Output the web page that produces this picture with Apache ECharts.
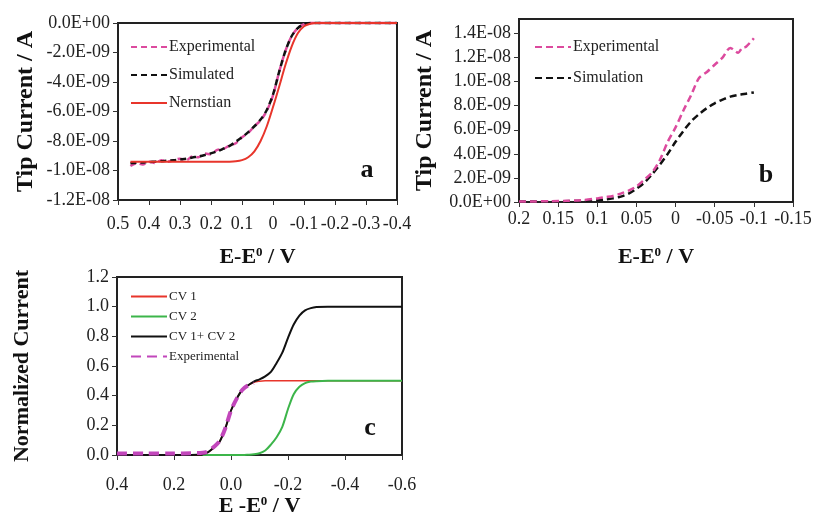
<!DOCTYPE html>
<html>
<head>
<meta charset="utf-8">
<script src="https://cdn.jsdelivr.net/npm/echarts@6/dist/echarts.min.js"></script>
<style>
html, body { margin: 0; padding: 0; background: #fff; }
#chart { width: 814px; height: 514px; }
</style>
</head>
<body>
<div id="chart"></div>
<script>
// panel a: tip current (nA) vs E-E0 (V)
var potA = [0.46, 0.44, 0.42, 0.40, 0.38, 0.36, 0.34, 0.32, 0.30, 0.28, 0.26, 0.24, 0.22, 0.20, 0.18, 0.16, 0.14, 0.12,
    0.10, 0.08, 0.06, 0.04, 0.02, 0.00, -0.02, -0.04, -0.06, -0.08, -0.10, -0.12, -0.14, -0.20, -0.30, -0.40];
var expA = [-9.7, -9.5, -9.6, -9.4, -9.5, -9.3, -9.4, -9.3, -9.2, -9.3, -9.05, -9.1, -8.85, -8.9, -8.6, -8.55, -8.3, -8.15,
    -7.75, -7.45, -7.0, -6.6, -5.95, -4.9, -3.3, -1.9, -0.9, -0.35, -0.08, 0, 0, 0, 0, 0];
var simA = [-9.5, -9.48, -9.45, -9.42, -9.4, -9.37, -9.33, -9.3, -9.25, -9.2, -9.12, -9.05, -8.95, -8.83, -8.7, -8.52, -8.33, -8.05,
    -7.75, -7.4, -7.0, -6.55, -5.9, -4.85, -3.3, -1.9, -0.9, -0.35, -0.08, -0.01, 0, 0, 0, 0];
var nernstA = [-9.4, -9.4, -9.4, -9.4, -9.4, -9.4, -9.4, -9.4, -9.4, -9.4, -9.4, -9.4, -9.4, -9.4, -9.4, -9.4, -9.4, -9.38,
    -9.3, -9.1, -8.7, -8.0, -7.0, -5.7, -4.3, -2.85, -1.6, -0.7, -0.22, -0.05, 0, 0, 0, 0];

// panel b: tip current (nA) vs E-E0 (V)
var potB = [0.20, 0.18, 0.16, 0.14, 0.12, 0.10, 0.09, 0.08, 0.07, 0.06, 0.05, 0.04, 0.03, 0.02, 0.01, 0.00,
    -0.01, -0.02, -0.03, -0.04, -0.05, -0.06, -0.07, -0.08, -0.085, -0.09, -0.10];
var expB = [0.05, 0.05, 0.07, 0.1, 0.15, 0.3, 0.4, 0.5, 0.7, 0.95, 1.3, 1.85, 2.45, 3.5, 5.0, 6.2,
    7.6, 8.9, 10.3, 10.8, 11.4, 12.0, 12.8, 12.4, 12.8, 12.9, 13.6];
var simB = [0.05, 0.05, 0.05, 0.07, 0.1, 0.15, 0.2, 0.3, 0.45, 0.7, 1.1, 1.6, 2.3, 3.1, 4.0, 5.0,
    5.9, 6.7, 7.3, 7.8, 8.2, 8.5, 8.75, 8.9, 8.95, 9.0, 9.1];

// panel c: normalized current vs E-E0 (V)
var potC = [0.40, 0.30, 0.20, 0.14, 0.10, 0.08, 0.06, 0.04, 0.02, 0.00, -0.02, -0.04, -0.06, -0.08, -0.10,
    -0.12, -0.14, -0.16, -0.18, -0.20, -0.22, -0.24, -0.26, -0.28, -0.30, -0.34, -0.40, -0.50, -0.60];
var cv1 = [0, 0, 0, 0, 0.005, 0.02, 0.05, 0.09, 0.18, 0.30, 0.38, 0.44, 0.47, 0.49, 0.497,
    0.5, 0.5, 0.5, 0.5, 0.5, 0.5, 0.5, 0.5, 0.5, 0.5, 0.5, 0.5, 0.5, 0.5];
var cv2 = [null, null, null, null, 0, 0, 0, 0, 0, 0, 0, 0, 0.002, 0.005, 0.012,
    0.03, 0.07, 0.12, 0.19, 0.31, 0.41, 0.46, 0.485, 0.495, 0.498, 0.5, 0.5, 0.5, 0.5];
var cvSum = [0, 0, 0, 0, 0.005, 0.02, 0.05, 0.09, 0.18, 0.30, 0.38, 0.44, 0.47, 0.495, 0.51,
    0.53, 0.56, 0.62, 0.69, 0.79, 0.88, 0.94, 0.975, 0.99, 0.997, 1.0, 1.0, 1.0, 1.0];
var expC = [0.01, 0.01, 0.01, 0.012, 0.015, 0.025, 0.055, 0.095, 0.18, 0.30, 0.38, 0.44, 0.47, 0.485, null,
    null, null, null, null, null, null, null, null, null, null, null, null, null, null];

var legendText = {
    expA: 'Experimental', simA: 'Simulated', nerA: 'Nernstian',
    expB: 'Experimental', simB: 'Simulation',
    cv1: 'CV 1', cv2: 'CV 2', sum: 'CV 1+ CV 2', expC: 'Experimental'
};

var F = '"Liberation Serif", "Times New Roman", serif';
var PINK = '#dc4a9e';
var RED = '#e8352b';
var GREEN = '#3cb54a';
var MAGENTA = '#c246bb';

function pairs(xs, ys) {
    var out = [];
    for (var i = 0; i < xs.length; i++) {
        if (ys[i] != null) out.push([xs[i], ys[i]]);
    }
    return out;
}

// Excel style "1.4E-08", input in nA
function sci(v) {
    var a = v * 1e-9;
    if (Math.abs(a) < 1e-15) return '0.0E+00';
    var e = Math.floor(Math.log10(Math.abs(a)) + 1e-9);
    var m = a / Math.pow(10, e);
    return m.toFixed(1) + 'E' + (e < 0 ? '-' : '+') + (Math.abs(e) < 10 ? '0' : '') + Math.abs(e);
}

function xAxisOf(grid, min, max, interval, fmt, margin, name, gap) {
    return {
        gridIndex: grid, type: 'value', inverse: true,
        min: min, max: max, interval: interval,
        axisLine: { show: true, onZero: false, lineStyle: { color: '#222', width: 2 } },
        axisTick: { show: true, length: 5, lineStyle: { color: '#333', width: 1 } },
        axisLabel: { fontFamily: F, fontSize: 18, color: '#222', margin: margin, formatter: fmt },
        splitLine: { show: false },
        name: name, nameLocation: 'middle', nameGap: gap,
        nameTextStyle: {
            fontFamily: F, fontSize: 22, fontWeight: 'bold', color: '#111',
            rich: { s: { fontFamily: F, fontSize: 13, fontWeight: 'bold', color: '#111', verticalAlign: 'top' } }
        }
    };
}

function yAxisOf(grid, min, max, interval, fmt, name, size, gap) {
    return {
        gridIndex: grid, type: 'value',
        min: min, max: max, interval: interval,
        axisLine: { show: true, onZero: false, lineStyle: { color: '#222', width: 2 } },
        axisTick: { show: true, length: 5, lineStyle: { color: '#333', width: 1 } },
        axisLabel: { fontFamily: F, fontSize: 18, color: '#222', margin: 8, formatter: fmt, showMaxLabel: grid !== 1 },
        splitLine: { show: false },
        name: name, nameLocation: 'middle', nameGap: gap,
        nameTextStyle: { fontFamily: F, fontSize: size, fontWeight: 'bold', color: '#111' }
    };
}

function legendOf(left, top, names, fontSize, itemGap, itemHeight) {
    return {
        orient: 'vertical', left: left, top: top,
        itemWidth: 36, itemHeight: itemHeight, itemGap: itemGap,
        data: names,
        selectedMode: false,
        itemStyle: { opacity: 0 },
        formatter: function (n) { return legendText[n]; },
        textStyle: { fontFamily: F, fontSize: fontSize, color: '#222', padding: [0, 0, 0, -3] }
    };
}

function line(name, xi, xs, ys, color, width, dash, z) {
    return {
        name: name, type: 'line', xAxisIndex: xi, yAxisIndex: xi,
        data: pairs(xs, ys), showSymbol: false, symbol: 'none', clip: false,
        smooth: 0.3, z: z,
        lineStyle: { color: color, width: width, type: dash },
        itemStyle: { color: color }
    };
}

var chart = echarts.init(document.getElementById('chart'));
chart.setOption({
    animation: false,
    backgroundColor: '#fff',
    grid: [
        { left: 118, top: 23, width: 279, height: 177, show: true, borderColor: '#222', borderWidth: 2, outerBoundsMode: 'none' },
        { left: 519, top: 19, width: 274, height: 183, show: true, borderColor: '#222', borderWidth: 2, outerBoundsMode: 'none' },
        { left: 117, top: 277, width: 285, height: 178, show: true, borderColor: '#222', borderWidth: 2, outerBoundsMode: 'none' }
    ],
    xAxis: [
        xAxisOf(0, -0.4, 0.5, 0.1, function (v) { return String(+v.toFixed(2)); }, 15, 'E-E{s|0} / V', 46),
        xAxisOf(1, -0.15, 0.2, 0.05, function (v) { return String(+v.toFixed(2)); }, 8, 'E-E{s|0} / V', 44),
        xAxisOf(2, -0.6, 0.4, 0.2, function (v) { return Math.abs(v) < 1e-9 ? '0.0' : v.toFixed(1); }, 21, 'E -E{s|0} / V', 40)
    ],
    yAxis: [
        yAxisOf(0, -12, 0, 2, sci, 'Tip Current / A', 24, 80),
        yAxisOf(1, 0, 15.2, 2, sci, 'Tip Current / A', 24, 82),
        yAxisOf(2, 0, 1.2, 0.2, function (v) { return v.toFixed(1); }, 'Normalized Current', 22, 84)
    ],
    legend: [
        legendOf(125, 34, ['expA', 'simA', 'nerA'], 16, 12, 14),
        legendOf(529, 34, ['expB', 'simB'], 16, 15, 14),
        legendOf(125, 285, ['cv1', 'cv2', 'sum', 'expC'], 13, 7, 12)
    ],
    graphic: [
        { type: 'text', x: 367, y: 170, style: { text: 'a', fontFamily: F, fontSize: 26, fontWeight: 'bold', fill: '#111', align: 'center', verticalAlign: 'middle' } },
        { type: 'text', x: 766, y: 175, style: { text: 'b', fontFamily: F, fontSize: 26, fontWeight: 'bold', fill: '#111', align: 'center', verticalAlign: 'middle' } },
        { type: 'text', x: 370, y: 428, style: { text: 'c', fontFamily: F, fontSize: 26, fontWeight: 'bold', fill: '#111', align: 'center', verticalAlign: 'middle' } }
    ],
    series: [
        line('expA', 0, potA, expA, PINK, 2.5, [6, 4], 2),
        line('simA', 0, potA, simA, '#111', 2.5, [6, 4], 3),
        line('nerA', 0, potA, nernstA, RED, 2, 'solid', 4),
        line('expB', 1, potB, expB, PINK, 2.5, [7, 4], 3),
        line('simB', 1, potB, simB, '#111', 2.5, [7, 4], 2),
        line('cv1', 2, potC, cv1, RED, 1.5, 'solid', 2),
        line('cv2', 2, potC, cv2, GREEN, 2, 'solid', 2),
        line('sum', 2, potC, cvSum, '#111', 2, 'solid', 3),
        line('expC', 2, potC, expC, MAGENTA, 4, [10, 6], 4)
    ]
});
</script>
</body>
</html>
